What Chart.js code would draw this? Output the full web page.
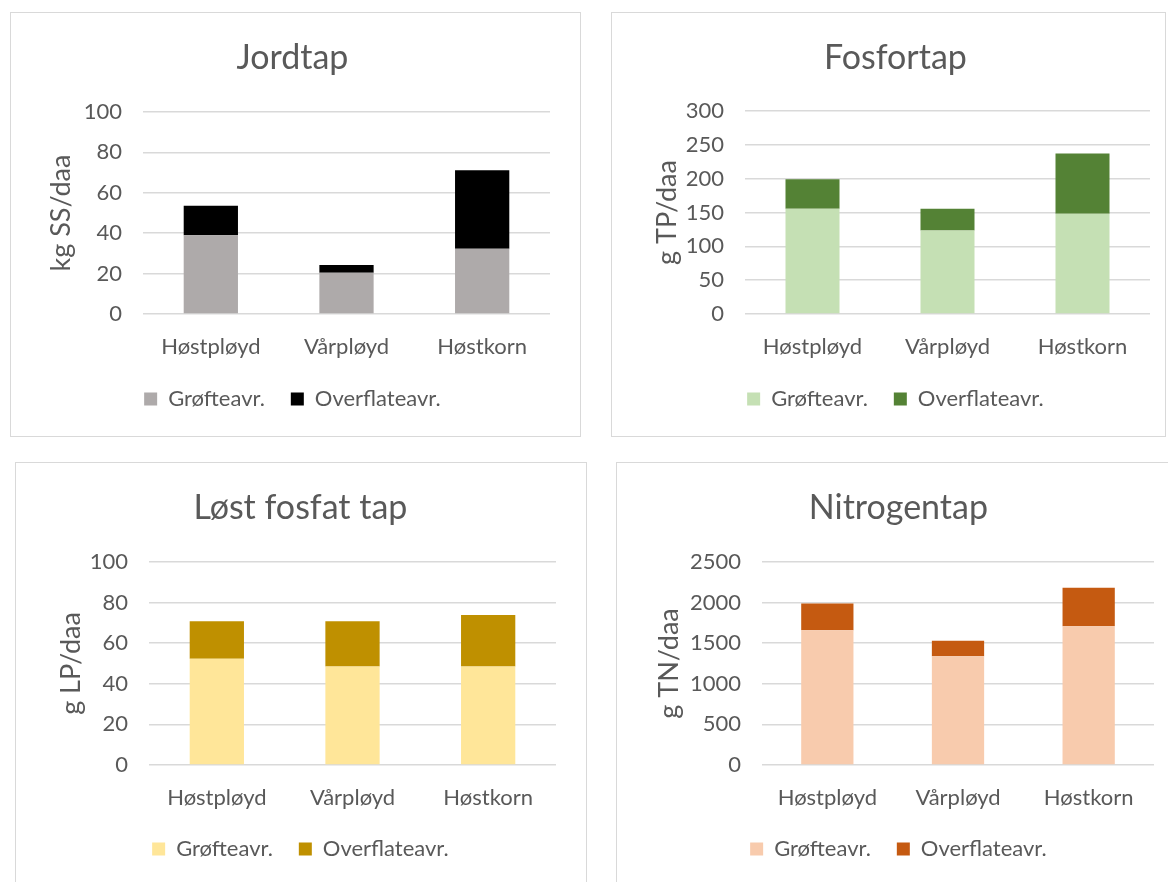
<!DOCTYPE html>
<html>
<head>
<meta charset="utf-8">
<script src="https://cdn.jsdelivr.net/npm/chart.js@4/dist/chart.umd.min.js"></script>
<style>
  body { margin: 0; background: #fff; width: 1168px; height: 882px; overflow: hidden; position: relative; }
  .panel { position: absolute; border: 1px solid #d9d9d9; background: #fff; }
  .panel canvas { display: block; }
</style>
</head>
<body>
<div class="panel" style="left:10px;top:12px;width:569px;height:423px"><canvas id="c1" width="569" height="423"></canvas></div>
<div class="panel" style="left:611px;top:12px;width:553px;height:423px"><canvas id="c2" width="553" height="423"></canvas></div>
<div class="panel" style="left:15px;top:462px;width:570px;height:430px"><canvas id="c3" width="570" height="430"></canvas></div>
<div class="panel" style="left:616px;top:462px;width:560px;height:430px"><canvas id="c4" width="560" height="430"></canvas></div>

<script>
// Data
const categories = ['Høstpløyd', 'Vårpløyd', 'Høstkorn'];
const seriesNames = ['Grøfteavr.', 'Overflateavr.'];

const jordGroft = [39, 20.4, 32.3];
const jordOverflate = [14.6, 3.8, 38.9];

const fosforGroft = [155.7, 123.5, 148.3];
const fosforOverflate = [43.4, 32.2, 88.9];

const lostGroft = [52.3, 48.5, 48.5];
const lostOverflate = [18.5, 22.3, 25.4];

const nitrogenGroft = [1658, 1340, 1708];
const nitrogenOverflate = [330, 190, 474];

const TEXT = '#595959';
const FONT = 'Lato';
const TICK_SIZE = 22;
const AXIS_TITLE_SIZE = 27;
const TITLE_SIZE = 34;
const LEGEND_PAD = 26;
const SHIFT = 10; // room left of the y title, keeps title/legend centred like Excel

// geometry inside each canvas: plot area, title centre, legend centre, y-title centre
function makeChart(id, o) {
  const canvas = document.getElementById(id);
  const W = canvas.width, H = canvas.height;
  const titleLH = TITLE_SIZE * 1.2;
  const axisLH = AXIS_TITLE_SIZE * 1.2;
  const padLeft = o.yTitleX - axisLH / 2 - SHIFT;
  // legend is fitted as padding + item + ~half a font size below
  const padBottom = H - o.legendY - TICK_SIZE / 2 - 11;
  const legendTop = o.legendY - TICK_SIZE / 2 - LEGEND_PAD;

  return new Chart(canvas, {
    type: 'bar',
    data: {
      labels: categories,
      datasets: [
        { label: seriesNames[0], data: o.groft, backgroundColor: o.colors[0] },
        { label: seriesNames[1], data: o.overflate, backgroundColor: o.colors[1] }
      ]
    },
    options: {
      responsive: false,
      animation: false,
      datasets: { bar: { categoryPercentage: 1, barPercentage: 0.4 } },
      layout: { padding: { left: padLeft, right: W - o.right, top: 0, bottom: padBottom } },
      plugins: {
        title: {
          display: true, text: o.title, color: TEXT,
          font: { family: FONT, size: TITLE_SIZE, weight: 'normal' },
          padding: { top: o.titleY - titleLH / 2, bottom: o.top - o.titleY - titleLH / 2 }
        },
        legend: {
          position: 'bottom',
          labels: {
            color: TEXT, boxWidth: 13, boxHeight: 13, padding: LEGEND_PAD,
            font: { family: FONT, size: TICK_SIZE }
          }
        },
        tooltip: { enabled: false }
      },
      scales: {
        x: {
          stacked: true,
          grid: { display: false },
          border: { display: false },
          ticks: { color: TEXT, padding: 12, font: { family: FONT, size: TICK_SIZE } },
          afterFit: s => { s.height = legendTop - o.bottom; }
        },
        y: {
          stacked: true,
          min: 0, max: o.max,
          ticks: {
            stepSize: o.step, color: TEXT, padding: 21,
            font: { family: FONT, size: TICK_SIZE },
            callback: v => String(v)
          },
          grid: { color: '#d9d9d9', lineWidth: 1.5, drawTicks: false },
          border: { display: false },
          title: {
            display: true, text: o.yTitle, color: TEXT, padding: { top: SHIFT, bottom: 0 },
            font: { family: FONT, size: AXIS_TITLE_SIZE }
          },
          afterFit: s => { s.width = o.left - padLeft; }
        }
      }
    }
  });
}

makeChart('c1', {
  title: 'Jordtap', yTitle: 'kg SS/daa', groft: jordGroft, overflate: jordOverflate,
  colors: ['#aeaaaa', '#000000'], max: 100, step: 20,
  left: 132, right: 539, top: 99, bottom: 300, titleY: 45, legendY: 385, yTitleX: 50
});

makeChart('c2', {
  title: 'Fosfortap', yTitle: 'g TP/daa', groft: fosforGroft, overflate: fosforOverflate,
  colors: ['#c5e0b4', '#548235'], max: 300, step: 50,
  left: 133, right: 538, top: 98, bottom: 300, titleY: 45, legendY: 385, yTitleX: 55
});

makeChart('c3', {
  title: 'Løst fosfat tap', yTitle: 'g LP/daa', groft: lostGroft, overflate: lostOverflate,
  colors: ['#ffe699', '#bf9000'], max: 100, step: 20,
  left: 133, right: 540, top: 99, bottom: 301, titleY: 45, legendY: 385, yTitleX: 55
});

makeChart('c4', {
  title: 'Nitrogentap', yTitle: 'g TN/daa', groft: nitrogenGroft, overflate: nitrogenOverflate,
  colors: ['#f8cbad', '#c55a11'], max: 2500, step: 500,
  left: 145, right: 537, top: 99, bottom: 301, titleY: 45, legendY: 385, yTitleX: 52
});
</script>
</body>
</html>
